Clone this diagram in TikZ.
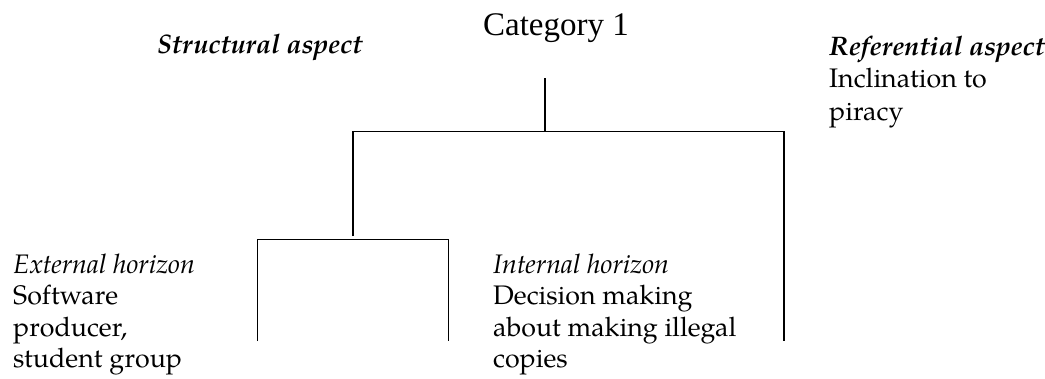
\documentclass[tikz,border=0pt]{standalone}
\usepackage{fontspec}
\setmainfont{TeX Gyre Pagella}
\newfontfamily\titlefont{Liberation Serif}
\begin{document}
\begin{tikzpicture}[x=1pt,y=-1pt,
  % multi-line blocks are placed by the baseline of their last line
  body/.style={anchor=base west, inner sep=0pt, align=left,
    font=\fontsize{26.8}{31.5}\selectfont},
  heading/.style={anchor=base, inner sep=0pt,
    font=\titlefont\fontsize{33}{38}\selectfont},
  bar/.style={line width=1.6pt, line join=miter}]
\useasboundingbox (0,0) rectangle (1045,378);

% labels
\node[heading] (cat) at (556,35) {Category 1};
\node[body] (struct) at (157,53) {\textbf{\textit{Structural aspect}}};
\node[body, font=\fontsize{26.8}{32.5}\selectfont] (ref) at (829,120)
  {\textbf{\textit{Referential aspect}}\\Inclination to\\piracy};
\node[body] (ext) at (13,367.5)
  {\textit{External horizon}\\Software\\producer,\\student group};
\node[body] (int) at (493,367.5)
  {\textit{Internal horizon}\\Decision making\\about making illegal\\copies};

% tree joints
\coordinate (root) at (545,78);
\coordinate (rootfork) at (545,131.5);
\coordinate (upL) at (352.7,131.5);
\coordinate (upLend) at (352.7,236);
\coordinate (upR) at (784,131.5);
\coordinate (upRend) at (784,341);
\coordinate (lowL) at (257.5,239.3);
\coordinate (lowR) at (448.5,239.3);
\coordinate (lowLend) at (257.5,341);
\coordinate (lowRend) at (448.5,341);

% connectors
\draw[bar] (root) -- (rootfork);
\draw[bar] (upLend) -- (upL) -- (upR) -- (upRend);
\draw[bar] (lowLend) -- (lowL) -- (lowR) -- (lowRend);
\end{tikzpicture}
\end{document}
